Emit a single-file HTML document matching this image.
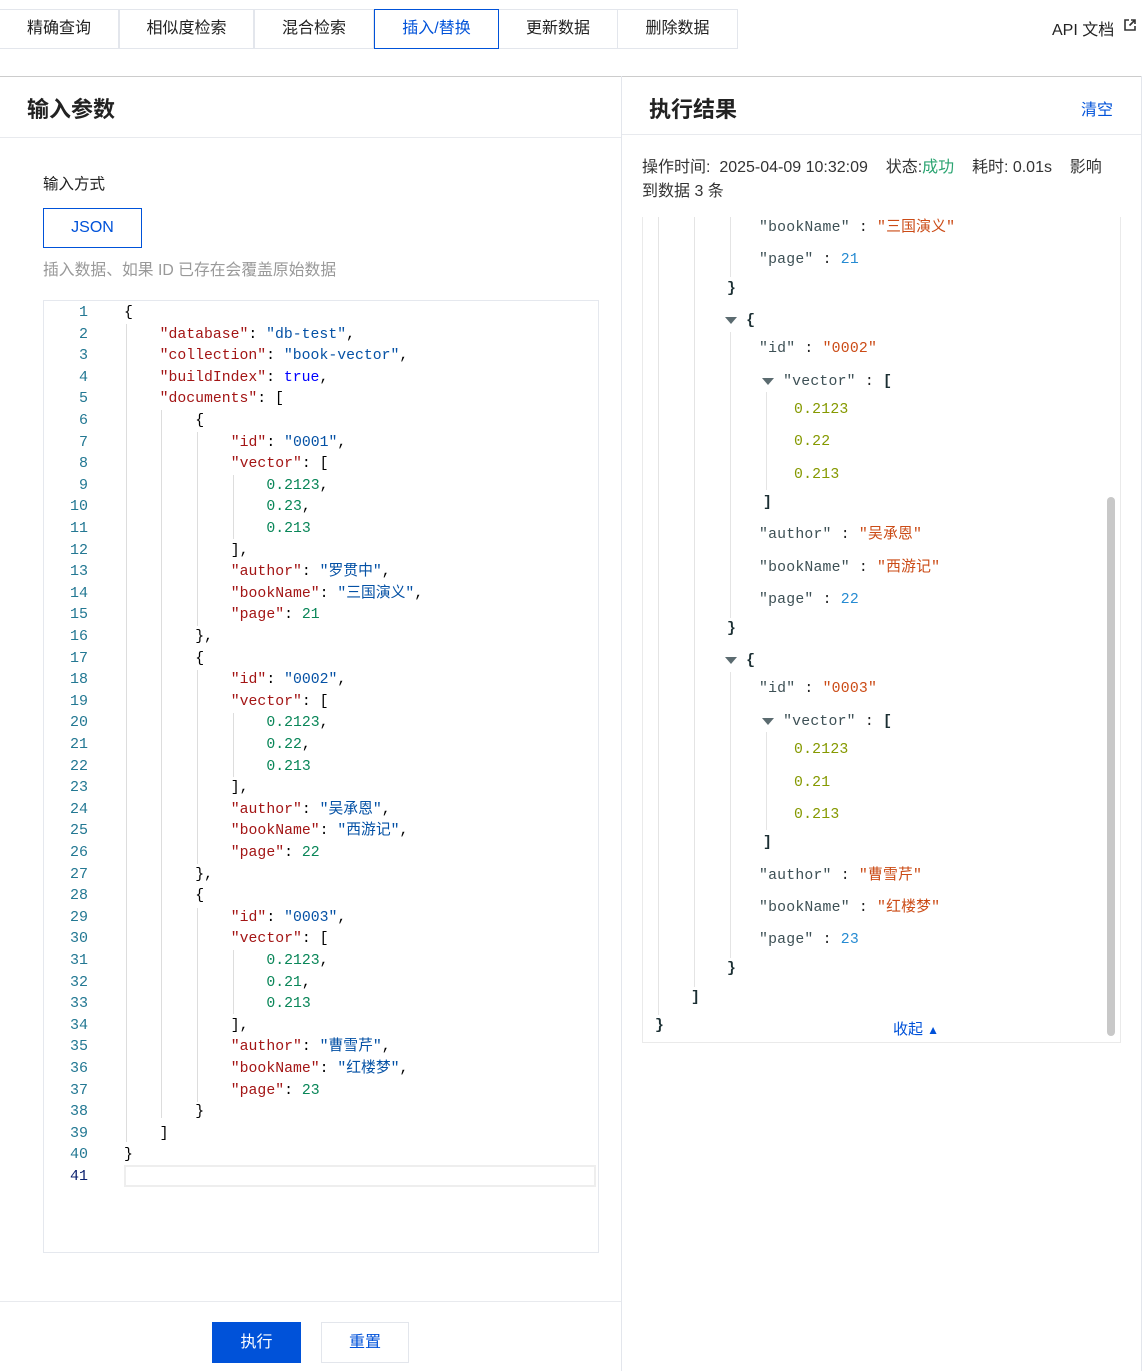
<!DOCTYPE html>
<html><head><meta charset="utf-8"><style>
*{margin:0;padding:0;box-sizing:border-box}
body{width:1148px;height:1371px;position:relative;background:#fff;font-family:"Liberation Sans","Noto Sans CJK SC",sans-serif;color:#222;overflow:hidden}
.a{position:absolute;white-space:pre}
.tab{position:absolute;top:9px;height:40px;border:1px solid #e3e6ec;font-size:16px;line-height:38px;text-align:center;color:#222;background:#fff}
.m{font-family:"Liberation Mono","Noto Sans CJK SC",monospace;font-size:14.8px}
.ln{position:absolute;width:46px;text-align:right;left:42px;color:#237893;font-family:"Liberation Mono",monospace;font-size:15px;height:20px;line-height:20px}
.k{color:#a31515}.s{color:#0451a5}.n{color:#098658}.b{color:#0000ff}
.rk{color:#3d5055}.rs{color:#cb4b16}.rn{color:#268bd2}.rv{color:#859900}.rp{color:#1b2f33;font-weight:bold}
.g{position:absolute;width:1px;background:#ddd}
.tri{display:inline-block;width:0;height:0;border-left:6px solid transparent;border-right:6px solid transparent;border-top:7px solid #5b6b70;vertical-align:middle}
</style></head><body>
<div class="tab" style="left:-1px;width:120px">精确查询</div>
<div class="tab" style="left:119px;width:135px">相似度检索</div>
<div class="tab" style="left:254px;width:120px">混合检索</div>
<div class="tab" style="left:374px;width:125px;border-color:#0052d9;color:#0052d9;z-index:2">插入/替换</div>
<div class="tab" style="left:498px;width:120px">更新数据</div>
<div class="tab" style="left:617px;width:121px">删除数据</div>
<div class="a" style="left:1052px;top:16px;font-size:16px">API 文档</div>
<svg class="a" style="left:1124px;top:19px" width="12" height="12" viewBox="0 0 12 12"><path d="M5 1H1v10h10V7" fill="none" stroke="#333" stroke-width="1.6"/><path d="M7 1h4v4M11 1L5.5 6.5" fill="none" stroke="#333" stroke-width="1.6"/></svg>
<div class="a" style="left:0;top:76px;width:1142px;height:1px;background:#ccc"></div>
<div class="a" style="left:621px;top:76px;width:1px;height:1295px;background:#e3e6ec"></div>
<div class="a" style="left:1141px;top:76px;width:1px;height:1295px;background:#e3e6ec"></div>
<div class="a" style="left:27px;top:92px;font-size:22px;font-weight:bold">输入参数</div>
<div class="a" style="left:0;top:137px;width:621px;height:1px;background:#e8eaee"></div>
<div class="a" style="left:43px;top:172px;font-size:15.5px">输入方式</div>
<div class="a" style="left:43px;top:208px;width:99px;height:40px;border:1px solid #0052d9;color:#0052d9;font-size:16px;line-height:38px;text-align:center">JSON</div>
<div class="a" style="left:43px;top:257px;font-size:15.8px;color:#999">插入数据、如果 ID 已存在会覆盖原始数据</div>
<div class="a" style="left:43px;top:300px;width:556px;height:953px;border:1px solid #e5e8ee"></div>
<div class="a" style="left:124px;top:1165px;width:472px;height:22px;border:2px solid #eee"></div>
<div class="g" style="left:126px;top:324px;height:818px"></div>
<div class="g" style="left:161px;top:410px;height:708px"></div>
<div class="g" style="left:197px;top:432px;height:194px"></div>
<div class="g" style="left:197px;top:670px;height:194px"></div>
<div class="g" style="left:197px;top:908px;height:194px"></div>
<div class="g" style="left:233px;top:475px;height:64px"></div>
<div class="g" style="left:233px;top:713px;height:64px"></div>
<div class="g" style="left:233px;top:950px;height:64px"></div>
<div id="L"></div>
<div class="a" style="left:0;top:1301px;width:621px;height:1px;background:#e8eaee"></div>
<div class="a" style="left:212px;top:1322px;width:89px;height:41px;background:#0052d9;color:#fff;font-size:16px;line-height:41px;text-align:center">执行</div>
<div class="a" style="left:321px;top:1322px;width:88px;height:41px;border:1px solid #e3e6ec;color:#0052d9;font-size:16px;line-height:39px;text-align:center">重置</div>

<div class="a" style="left:649px;top:92px;font-size:22px;font-weight:bold">执行结果</div>
<div class="a" style="left:1081px;top:96px;font-size:16px;color:#0052d9">清空</div>
<div class="a" style="left:622px;top:134px;width:519px;height:1px;background:#e8eaee"></div>
<div class="a" style="left:642px;top:156px;font-size:16px;line-height:24px;color:#333">操作时间:  2025-04-09 10:32:09    状态:<span style="color:#2ba471">成功</span>    耗时: 0.01s    影响
到数据 3 条</div>
<div class="a" style="left:642px;top:217px;width:479px;height:826px;border:1px solid #eaeaea;border-top:none"></div>
<div class="a" style="left:1107px;top:497px;width:8px;height:539px;border-radius:4px;background:#c8c8c8"></div>
<div class="g" style="left:658px;top:217px;height:798px;background:#e4e4e4"></div>
<div class="g" style="left:694px;top:217px;height:770px;background:#e4e4e4"></div>
<div class="g" style="left:730px;top:217px;height:60px;background:#e4e4e4"></div>
<div class="g" style="left:730px;top:332px;height:286px;background:#e4e4e4"></div>
<div class="g" style="left:730px;top:672px;height:286px;background:#e4e4e4"></div>
<div class="g" style="left:766px;top:392px;height:98px;background:#e4e4e4"></div>
<div class="g" style="left:766px;top:732px;height:98px;background:#e4e4e4"></div>
<div id="R"></div>
<div class="a" style="left:893px;top:1018px;font-size:15px;color:#0052d9">收起 <span style="font-size:12px">▲</span></div>
<script>
var L=[[0,'<span>{</span>'],[1,'<span class="k">"database"</span>: <span class="s">"db-test"</span>,'],[1,'<span class="k">"collection"</span>: <span class="s">"book-vector"</span>,'],[1,'<span class="k">"buildIndex"</span>: <span class="b">true</span>,'],[1,'<span class="k">"documents"</span>: ['],[2,'{']];
function doc(id,v,a,bn,p){return [[3,'<span class="k">"id"</span>: <span class="s">"'+id+'"</span>,'],[3,'<span class="k">"vector"</span>: ['],[4,'<span class="n">0.2123</span>,'],[4,'<span class="n">'+v+'</span>,'],[4,'<span class="n">0.213</span>'],[3,'],'],[3,'<span class="k">"author"</span>: <span class="s">"'+a+'"</span>,'],[3,'<span class="k">"bookName"</span>: <span class="s">"'+bn+'"</span>,'],[3,'<span class="k">"page"</span>: <span class="n">'+p+'</span>']];}
L=L.concat(doc('0001','0.23','罗贯中','三国演义',21),[[2,'},'],[2,'{']],doc('0002','0.22','吴承恩','西游记',22),[[2,'},'],[2,'{']],doc('0003','0.21','曹雪芹','红楼梦',23),[[2,'}'],[1,']'],[0,'}'],[0,'']]);
var h='';L.forEach(function(l,i){var y=312+i*21.6-9;h+='<div class="ln" style="top:'+y+'px'+(i==40?';color:#0b216f':'')+'">'+(i+1)+'</div><div class="a m" style="left:'+(124+35.6*l[0])+'px;top:'+y+'px;line-height:20px;color:#000">'+l[1]+'</div>';});
document.getElementById('L').innerHTML=h;
var T='<span class="tri"></span> ';
var R=[[226,759,'<span class="rk">"bookName"</span> : <span class="rs">"三国演义"</span>'],[258,759,'<span class="rk">"page"</span> : <span class="rn">21</span>'],[287,727,'<span class="rp">}</span>'],[319,725,T+'<span class="rp">{</span>'],[347,759,'<span class="rk">"id"</span> : <span class="rs">"0002"</span>'],[380,762,T+'<span class="rk">"vector"</span> : <span class="rp">[</span>'],[408,794,'<span class="rv">0.2123</span>'],[440,794,'<span class="rv">0.22</span>'],[473,794,'<span class="rv">0.213</span>'],[501,763,'<span class="rp">]</span>'],[533,759,'<span class="rk">"author"</span> : <span class="rs">"吴承恩"</span>'],[566,759,'<span class="rk">"bookName"</span> : <span class="rs">"西游记"</span>'],[598,759,'<span class="rk">"page"</span> : <span class="rn">22</span>'],[627,727,'<span class="rp">}</span>'],[659,725,T+'<span class="rp">{</span>'],[687,759,'<span class="rk">"id"</span> : <span class="rs">"0003"</span>'],[720,762,T+'<span class="rk">"vector"</span> : <span class="rp">[</span>'],[748,794,'<span class="rv">0.2123</span>'],[781,794,'<span class="rv">0.21</span>'],[813,794,'<span class="rv">0.213</span>'],[841,763,'<span class="rp">]</span>'],[874,759,'<span class="rk">"author"</span> : <span class="rs">"曹雪芹"</span>'],[906,759,'<span class="rk">"bookName"</span> : <span class="rs">"红楼梦"</span>'],[938,759,'<span class="rk">"page"</span> : <span class="rn">23</span>'],[967,727,'<span class="rp">}</span>'],[996,691,'<span class="rp">]</span>'],[1024,655,'<span class="rp">}</span>']];
h='';R.forEach(function(r){h+='<div class="a m" style="left:'+r[1]+'px;top:'+(r[0]-8)+'px;line-height:20px;letter-spacing:0.2px">'+r[2]+'</div>';});
document.getElementById('R').innerHTML=h;
</script>
</body></html>
